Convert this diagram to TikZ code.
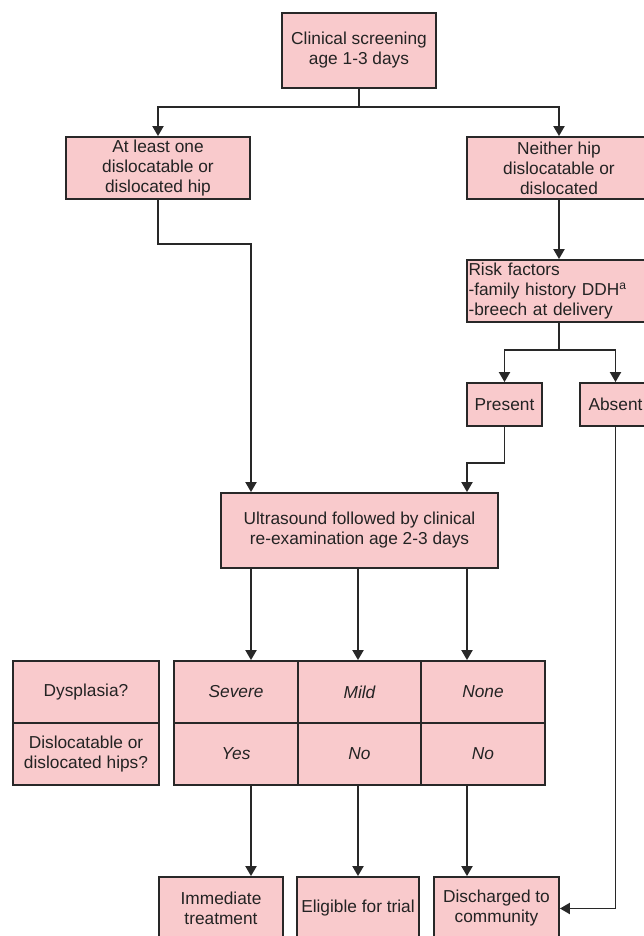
\documentclass[tikz,border=0pt]{standalone}
\usepackage{fontspec}
\setmainfont{Liberation Sans}
\usetikzlibrary{arrows.meta}
\definecolor{boxfill}{RGB}{249,202,204}
\definecolor{edgec}{RGB}{40,40,40}
\definecolor{txtc}{RGB}{35,35,35}
\begin{document}
\begin{tikzpicture}[x=1pt,y=-1pt,
  box/.style={draw=edgec, line width=1.8pt, fill=boxfill, inner sep=0pt, align=center,
    font=\fontsize{17.3}{20}\selectfont, text=txtc},
  cell/.style={box, minimum height=62pt},
  icell/.style={cell, font=\fontsize{17.3}{20}\selectfont\itshape},
  arr/.style={draw=edgec, line width=1.9pt, -{Triangle[width=11pt,length=10pt]}},
  ln/.style={draw=edgec, line width=1.9pt}]
\useasboundingbox (0,0) rectangle (644,936);
\clip (0,0) rectangle (644,936);
% boxes
\node[box, minimum width=154pt, minimum height=75pt] (top) at (359,50.5) {Clinical screening\\age 1-3 days};
\node[box, minimum width=184pt, minimum height=62pt] (atleast) at (158,168) {At least one\\dislocatable or\\dislocated hip};
\node[box, minimum width=184pt, minimum height=62pt] (neither) at (559,168) {Neither hip\\dislocatable or\\dislocated};
\node[box, text width=181pt, inner xsep=1.5pt, minimum height=62pt, align=left] (risk) at (559,291) {Risk factors\\-family history DDH\textsuperscript{a}\\-breech at delivery};
\node[box, minimum width=75pt, minimum height=43pt] (present) at (504.5,404.5) {Present};
\node[box, minimum width=71pt, minimum height=43pt] (absent) at (615.5,404.5) {Absent};
\node[box, minimum width=277pt, minimum height=75pt] (us) at (359.5,530.5) {Ultrasound followed by clinical\\re-examination age 2-3 days};
% table legend
\node[cell, minimum width=146pt] (dys) at (86,692) {Dysplasia?};
\node[cell, minimum width=146pt] (dh) at (86,754) {Dislocatable or\\dislocated hips?};
% table main
\node[icell, minimum width=124pt] (sev) at (236,692) {Severe};
\node[icell, minimum width=123pt] (mild) at (359.5,692) {Mild};
\node[icell, minimum width=124pt] (none) at (483,692) {None};
\node[icell, minimum width=124pt] (yes) at (236,754) {Yes};
\node[icell, minimum width=123pt] (no1) at (359.5,754) {No};
\node[icell, minimum width=124pt] (no2) at (483,754) {No};
% bottom
\node[box, minimum width=124pt, minimum height=63pt] (imm) at (221,908.5) {Immediate\\treatment};
\node[box, minimum width=122pt, minimum height=63pt] (elig) at (358,908.5) {Eligible for trial};
\node[box, minimum width=125pt, minimum height=63pt] (disc) at (496.5,908.5) {Discharged to\\community};
% coordinates
\coordinate (cA) at (251,0);
\coordinate (cB) at (358,0);
\coordinate (cC) at (467,0);
\coordinate (jL) at (0,244);
\coordinate (jP) at (0,463);
\coordinate (jT) at (0,107);
\coordinate (jR) at (0,350);
% connectors
\draw[arr] (top.south) -- (top.south |- jT) -| (atleast.north);
\draw[arr] (top.south |- jT) -| (neither.north);
\draw[arr] (neither.south) -- (risk.north);
\draw[arr] (risk.south) -- (risk.south |- jR) -| (present.north);
\draw[arr] (risk.south |- jR) -| (absent.north);
\draw[arr] (atleast.south) -- (atleast.south |- jL) -| (us.north -| cA);
\draw[arr] (present.south) -- (present.south |- jP) -| (us.north -| cC);
\draw[arr] (us.south -| cA) -- (sev.north -| cA);
\draw[arr] (us.south -| cB) -- (mild.north -| cB);
\draw[arr] (us.south -| cC) -- (none.north -| cC);
\draw[arr] (yes.south -| cA) -- (imm.north -| cA);
\draw[arr] (no1.south -| cB) -- (elig.north -| cB);
\draw[arr] (no2.south -| cC) -- (disc.north -| cC);
\draw[arr] (absent.south) |- (disc.east);
\end{tikzpicture}
\end{document}
